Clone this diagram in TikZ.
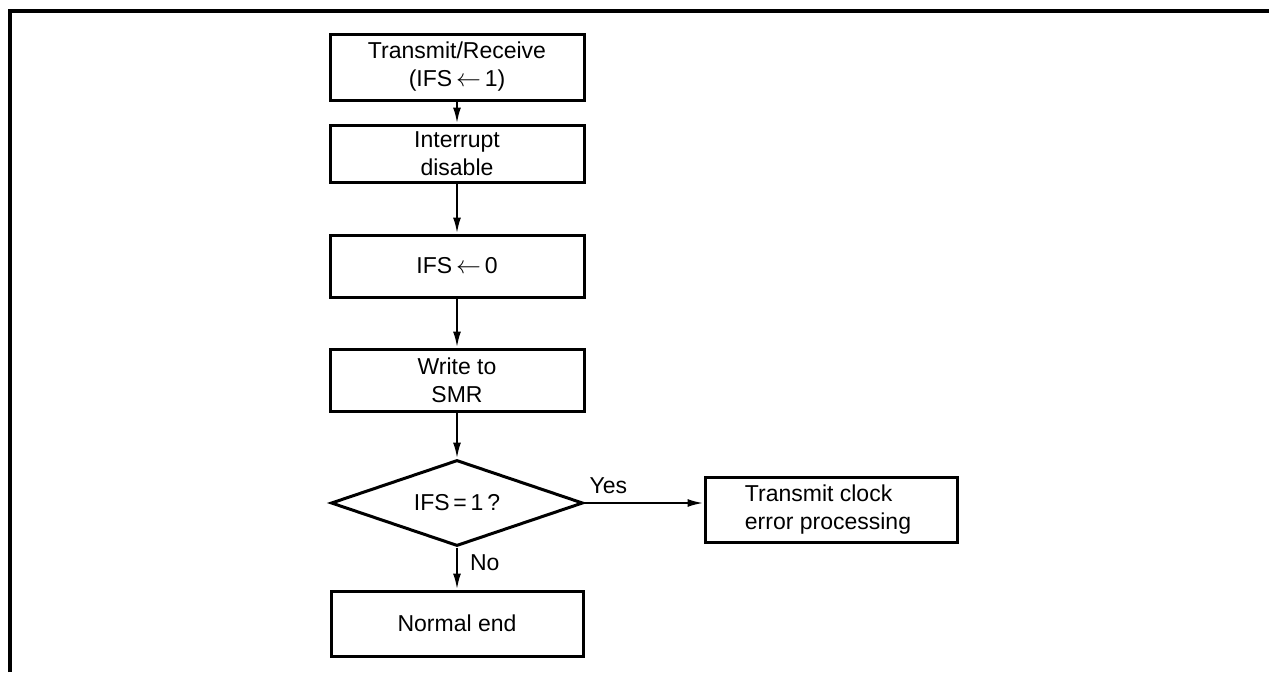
\documentclass[tikz,border=0pt]{standalone}
\usepackage{fontspec}
\setmainfont{Liberation Sans}
\usetikzlibrary{shapes.geometric,arrows.meta}
\newcommand{\larr}{\,$\leftarrow$\,}
\begin{document}
\begin{tikzpicture}[x=1pt,y=-1pt,
  every node/.style={font=\fontsize{23}{28}\selectfont},
  procbox/.style={draw,line width=3pt,minimum width=254pt,inner sep=0pt,align=center},
  decide/.style={draw,diamond,line width=3pt,minimum width=252pt,minimum height=86pt,aspect=2.93,inner sep=0pt},
  flow/.style={line width=2.2pt,-{Latex[length=16pt,width=8pt]}},
  lbl/.style={inner sep=0pt}]
\useasboundingbox (0,0) rectangle (1269,672);
\fill[white] (0,0) rectangle (1269,672);
\coordinate (fa) at (10,672);
\coordinate (fb) at (10,11);
\coordinate (fc) at (1269,11);
\draw[line width=3.5pt] (fa) -- (fb) -- (fc);
\node[procbox,minimum height=66pt] (b1) at (457,67) {Transmit/Receive\\(IFS\larr 1)};
\node[procbox,minimum height=57pt] (b2) at (457,153.5) {Interrupt\\disable};
\node[procbox,minimum height=62pt] (b3) at (457,266) {IFS\larr 0};
\node[procbox,minimum height=62pt] (b4) at (457,380) {Write to\\SMR};
\node[decide] (d) at (457,503) {IFS\,=\,1\,?};
\node[procbox,minimum width=252pt,minimum height=65pt] (ne) at (457,623.5) {Normal end};
\node[procbox,minimum width=252pt,minimum height=65pt,align=left] (tc) at (831,509.5) {Transmit clock\\error processing\hspace*{6pt}};
\draw[flow] (b1) -- (b2);
\draw[flow] (b2) -- (b3);
\draw[flow] (b3) -- (b4);
\draw[flow] (b4) -- (d);
\draw[flow] (d.south) -- (ne.north) node[lbl,pos=0.35,right=12pt] {No};
\draw[flow] (d.east) -- (d.east -| tc.west) node[lbl,pos=0.2,above=8pt] {Yes};
\end{tikzpicture}
\end{document}
